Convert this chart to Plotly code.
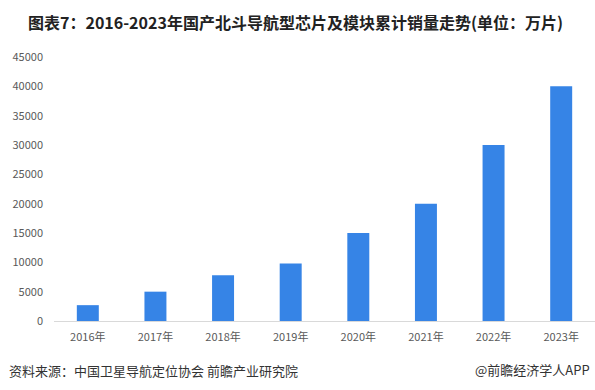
import plotly.graph_objects as go

years = ["2016年", "2017年", "2018年", "2019年", "2020年", "2021年", "2022年", "2023年"]
sales = [2700, 5000, 7800, 9800, 15000, 20000, 30000, 40000]
y_ticks = [0, 5000, 10000, 15000, 20000, 25000, 30000, 35000, 40000, 45000]

title_text = "图表7：2016-2023年国产北斗导航型芯片及模块累计销量走势(单位：万片)"
source_text = "资料来源：中国卫星导航定位协会 前瞻产业研究院"
brand_text = "@前瞻经济学人APP"

font_family = "Noto Sans CJK SC, Noto Sans, sans-serif"

fig = go.Figure(
    go.Bar(
        x=years,
        y=sales,
        marker=dict(color="#3684E6", line=dict(width=0)),
        width=0.325,
        hoverinfo="x+y",
    )
)

fig.update_layout(
    width=595,
    height=390,
    margin=dict(l=54, r=0, t=57, b=69),
    paper_bgcolor="white",
    plot_bgcolor="white",
    showlegend=False,
    font=dict(family=font_family, size=11, color="#595959"),
    bargap=0.675,
)

fig.update_xaxes(
    type="category",
    showgrid=False,
    showline=True,
    linecolor="#D9D9D9",
    linewidth=1,
    ticks="",
    tickfont=dict(size=11, color="#595959"),
    ticklabelstandoff=6,
)

fig.update_yaxes(
    range=[0, 45000],
    tickvals=y_ticks,
    ticktext=[str(v) for v in y_ticks],
    showgrid=False,
    showline=False,
    zeroline=False,
    ticks="",
    tickfont=dict(size=11, color="#595959"),
    ticklabelstandoff=10,
)

fig.add_annotation(
    text="<b>" + title_text + "</b>",
    xref="paper", yref="paper",
    x=-54 / 541, y=1 + 35 / 264,
    xanchor="left", yanchor="middle",
    xshift=26,
    showarrow=False,
    font=dict(family=font_family, size=16, color="#222222"),
)

fig.add_annotation(
    text=source_text,
    xref="paper", yref="paper",
    x=-54 / 541, y=-49 / 264,
    xanchor="left", yanchor="middle",
    xshift=7,
    showarrow=False,
    font=dict(family=font_family, size=13, color="#333333"),
)

fig.add_annotation(
    text=brand_text,
    xref="paper", yref="paper",
    x=1, y=-48 / 264,
    xanchor="right", yanchor="middle",
    xshift=-3,
    showarrow=False,
    font=dict(family=font_family, size=13, color="#333333"),
)

fig.write_html(
    "out.html",
    config={"displayModeBar": False},
    post_script="document.body.style.margin='0';document.body.style.padding='0';",
)
